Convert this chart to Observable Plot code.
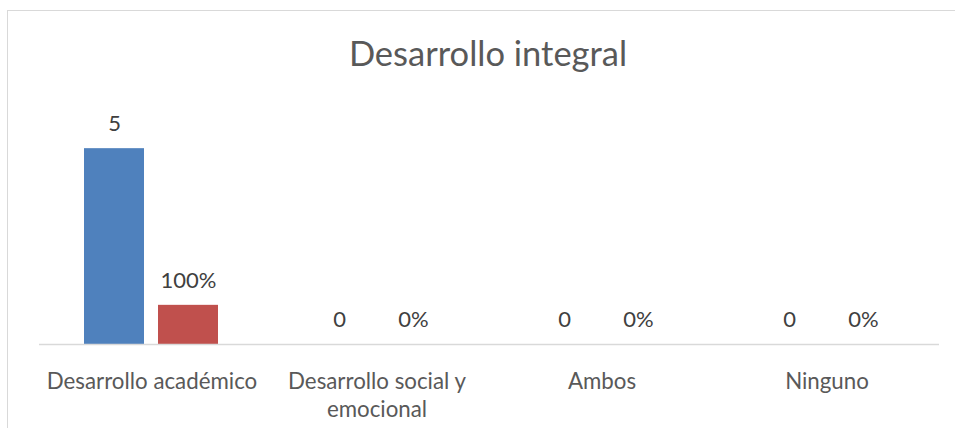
<!DOCTYPE html>
<html>
<head>
<meta charset="utf-8">
<script src="https://cdn.jsdelivr.net/npm/d3@7"></script>
<script src="https://cdn.jsdelivr.net/npm/@observablehq/plot@0.6"></script>
<style>
  html, body { margin: 0; padding: 0; background: #fff; }
  body { width: 955px; height: 428px; position: relative; overflow: hidden; font-family: Lato, "Open Sans", sans-serif; }
  #frame { position: absolute; left: 7px; top: 10px; width: 960px; height: 430px; border-left: 1px solid #d9d9d9; border-top: 1px solid #d9d9d9; }
  #title { position: absolute; left: 0; top: 36px; width: 976px; text-align: center; font-size: 34.5px; line-height: 34.5px; color: #595959; }
  #chart { position: absolute; left: 0; top: 100px; }
</style>
</head>
<body>
<div id="frame"></div>
<div id="title">Desarrollo integral</div>
<div id="chart"></div>
<script>
const categories = ["Desarrollo académico", "Desarrollo social y emocional", "Ambos", "Ninguno"];
const categoryLabels = ["Desarrollo académico", "Desarrollo social y\nemocional", "Ambos", "Ninguno"];
const series = ["Frecuencia", "Porcentaje"];
const counts = [5, 0, 0, 0];
const percents = [1, 0, 0, 0];

const fmtPct = d3.format(".0%");
const rows = categories.flatMap((c, i) => [
  {category: c, series: series[0], value: counts[i], label: String(counts[i])},
  {category: c, series: series[1], value: percents[i], label: fmtPct(percents[i])}
]);
const labelOf = new Map(categories.map((c, i) => [c, categoryLabels[i]]));

const chart = Plot.plot({
  width: 955,
  height: 328,
  marginTop: 9,
  marginBottom: 84,
  marginLeft: 37,
  marginRight: 15,
  style: {fontFamily: "Lato, 'Open Sans', sans-serif", background: "transparent"},
  fx: {domain: categories, padding: 0, axis: null, label: null},
  x: {domain: series, paddingInner: 14 / 75, paddingOuter: 0.6, axis: null},
  y: {domain: [0, 6], axis: null},
  color: {domain: series, range: ["#4F81BD", "#C0504D"]},
  marks: [
    Plot.barY(rows, {fx: "category", x: "series", y: "value", fill: "series"}),
    Plot.ruleY([0], {stroke: "#d9d9d9", strokeWidth: 1.5}),
    Plot.text(rows, {fx: "category", x: "series", y: "value", text: "label", lineAnchor: "bottom", dy: -17.6, fontSize: 22, fill: "#404040"}),
    Plot.text(categories, {fx: d => d, text: d => labelOf.get(d), frameAnchor: "bottom", lineAnchor: "top", dy: 24.4, lineHeight: 1.26, fontSize: 22.3, fill: "#595959"})
  ]
});
document.getElementById("chart").appendChild(chart);
</script>
</body>
</html>
